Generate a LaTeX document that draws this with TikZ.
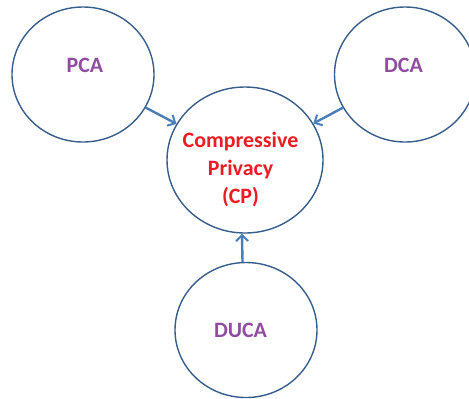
\documentclass[tikz,border=0pt]{standalone}
\usepackage{fontspec}
\setmainfont{Carlito}
\usetikzlibrary{shapes.geometric,arrows.meta}
\definecolor{ringblue}{RGB}{56,93,138}
\definecolor{arrowblue}{RGB}{74,126,187}
\definecolor{labpurple}{RGB}{143,76,160}
\definecolor{labred}{RGB}{237,28,36}
\tikzset{
  ring/.style={draw=ringblue, line width=1.4bp, ellipse, inner sep=0pt},
  feed/.style={draw=arrowblue, line width=2.4bp, -{Straight Barb[length=6bp,width=12bp,line width=2bp]}},
  lab/.style={font=\bfseries\fontsize{22}{28}\selectfont, text=labpurple, inner sep=0pt},
}
\begin{document}
\begin{tikzpicture}[x=1bp,y=-1bp]
\useasboundingbox (0,0) rectangle (469,398);
\node[ring, minimum width=142bp, minimum height=135bp] (pca) at (83,74.5) {};
\node[ring, minimum width=141bp, minimum height=135bp] (dca) at (405,74.5) {};
\node[ring, minimum width=156bp, minimum height=146bp] (cp) at (245,160) {};
\node[ring, minimum width=142bp, minimum height=135bp] (duca) at (246,330) {};
\node[lab, anchor=base] (pcat) at (85,72) {PCA};
\node[lab, anchor=base] (dcat) at (403.5,72) {DCA};
\node[lab, anchor=base] (ducat) at (240.5,337) {DUCA};
\node[lab, text=labred, align=center] (cpt) at (240.5,169.5) {Compressive\\Privacy\\(CP)};
\draw[feed] (pca) -- (cp);
\draw[feed] (dca) -- (cp);
\draw[feed] ([xshift=-3.5bp]duca.north) -- ([xshift=-3bp]cp.south);
\end{tikzpicture}
\end{document}
